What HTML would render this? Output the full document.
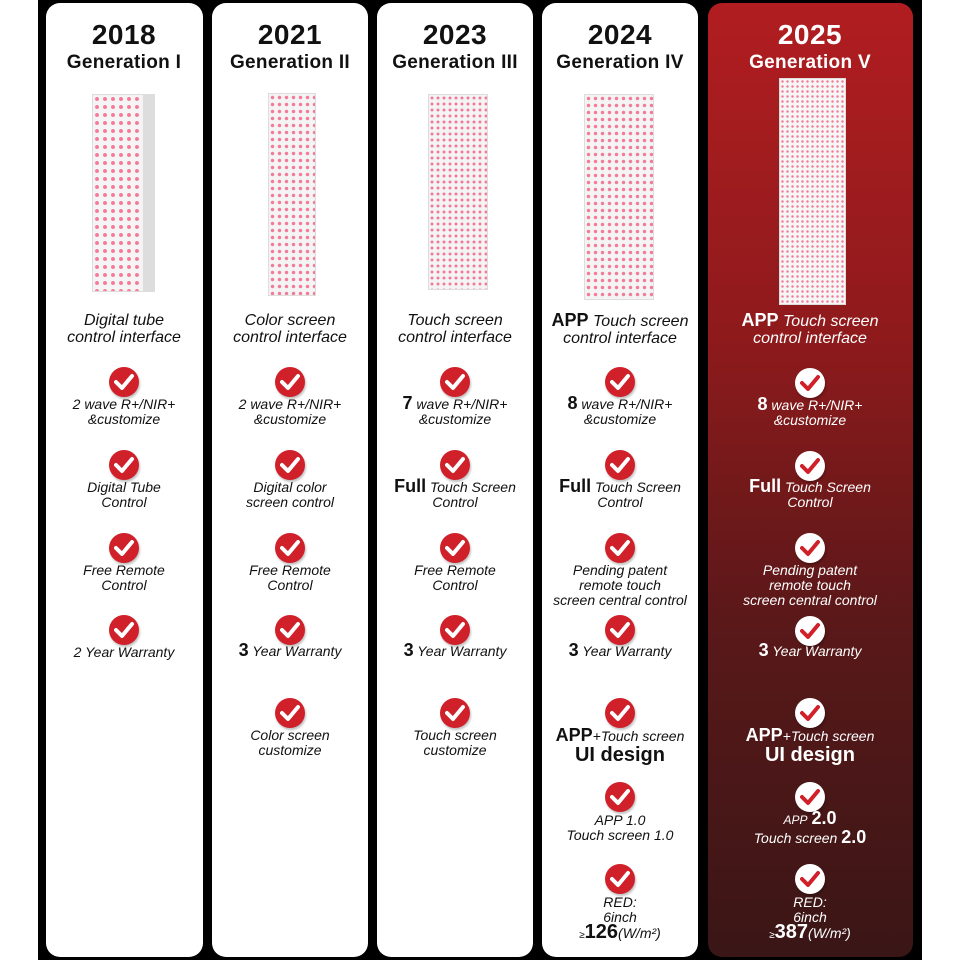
<!DOCTYPE html>
<html><head><meta charset="utf-8"><style>
*{margin:0;padding:0;box-sizing:border-box}
body{width:960px;height:960px;background:#fff;position:relative;overflow:hidden;font-family:"Liberation Sans",sans-serif}
.bk{position:absolute;left:38px;top:0;width:884px;height:960px;background:#000}
.card{position:absolute;top:3px;height:954px;background:#fff;border-radius:14px}
.red{background:linear-gradient(180deg,#b11d20 0%,#8e1a1c 35%,#5a1819 65%,#3a1616 100%)}
.t{position:absolute;width:200px;text-align:center;color:#111;font-style:italic;font-size:14px;line-height:15px}
.w .t,.w .h{color:#fff}
.h{position:absolute;width:200px;text-align:center;font-weight:bold;color:#111;font-style:normal}
.y{font-size:28px;top:19px;letter-spacing:0.5px}
.g{font-size:19px;top:52px;letter-spacing:0.3px}
.ck{position:absolute;width:30px;height:30px;border-radius:50%;background:#d0202a;box-shadow:1px 2px 2px rgba(0,0,0,.25)}
.ck svg{position:absolute;left:5px;top:6px}
.w .ck{background:#fff}
b{font-style:normal;font-size:18px}
.big{font-size:16px;line-height:17px}
.panel{position:absolute;background-color:#f4f4f4;border:1px solid #ddd;background-image:radial-gradient(circle,#f37a98 30%,transparent 40%);background-size:7px 7px}
</style></head><body>
<div class="bk"></div>
<div class="card" style="left:46px;width:157px"></div>
<div class="card" style="left:212px;width:156px"></div>
<div class="card" style="left:377px;width:156px"></div>
<div class="card" style="left:542px;width:156px"></div>
<div class="card red" style="left:708px;width:205px"></div>

<div class="panel" style="left:92px;top:94px;width:52px;height:198px;background-size:8px 8px"></div>
<div class="panel" style="left:143px;top:94px;width:12px;height:198px;background:#ddd"></div>
<div class="panel" style="left:268px;top:93px;width:48px;height:203px;background-size:7px 7px"></div>
<div class="panel" style="left:428px;top:94px;width:60px;height:196px;background-size:6px 6px"></div>
<div class="panel" style="left:584px;top:94px;width:70px;height:206px;background-size:7px 7px"></div>
<div class="panel" style="left:779px;top:78px;width:67px;height:227px;background-size:5px 5px;background-color:#f6f6f6"></div>

<svg width="0" height="0" style="position:absolute"><defs>
<symbol id="cr" viewBox="0 0 20 18"><path d="M2 9 L8 15 L18 3" fill="none" stroke="#fff" stroke-width="4" stroke-linecap="round" stroke-linejoin="round"/></symbol>
<symbol id="cw" viewBox="0 0 20 18"><path d="M2 9 L8 15 L18 3" fill="none" stroke="#d0202a" stroke-width="4" stroke-linecap="round" stroke-linejoin="round"/></symbol>
</defs></svg>

<div style="position:absolute;left:24px;top:0">
<div class="h y">2018</div><div class="h g">Generation I</div>
<div class="t big" style="top:312px">Digital tube<br>control interface</div>
<div class="ck" style="left:85px;top:367px"><svg width="20" height="18"><use href="#cr"/></svg></div>
<div class="t" style="top:397px">2 wave R+/NIR+<br>&amp;customize</div>
<div class="ck" style="left:85px;top:450px"><svg width="20" height="18"><use href="#cr"/></svg></div>
<div class="t" style="top:480px">Digital Tube<br>Control</div>
<div class="ck" style="left:85px;top:533px"><svg width="20" height="18"><use href="#cr"/></svg></div>
<div class="t" style="top:563px">Free Remote<br>Control</div>
<div class="ck" style="left:85px;top:615px"><svg width="20" height="18"><use href="#cr"/></svg></div>
<div class="t" style="top:645px">2 Year Warranty</div>
</div>

<div style="position:absolute;left:190px;top:0">
<div class="h y">2021</div><div class="h g">Generation II</div>
<div class="t big" style="top:312px">Color screen<br>control interface</div>
<div class="ck" style="left:85px;top:367px"><svg width="20" height="18"><use href="#cr"/></svg></div>
<div class="t" style="top:397px">2 wave R+/NIR+<br>&amp;customize</div>
<div class="ck" style="left:85px;top:450px"><svg width="20" height="18"><use href="#cr"/></svg></div>
<div class="t" style="top:480px">Digital color<br>screen control</div>
<div class="ck" style="left:85px;top:533px"><svg width="20" height="18"><use href="#cr"/></svg></div>
<div class="t" style="top:563px">Free Remote<br>Control</div>
<div class="ck" style="left:85px;top:615px"><svg width="20" height="18"><use href="#cr"/></svg></div>
<div class="t" style="top:643px"><b>3</b> Year Warranty</div>
<div class="ck" style="left:85px;top:698px"><svg width="20" height="18"><use href="#cr"/></svg></div>
<div class="t" style="top:728px">Color screen<br>customize</div>
</div>

<div style="position:absolute;left:355px;top:0">
<div class="h y">2023</div><div class="h g">Generation III</div>
<div class="t big" style="top:312px">Touch screen<br>control interface</div>
<div class="ck" style="left:85px;top:367px"><svg width="20" height="18"><use href="#cr"/></svg></div>
<div class="t" style="top:396px"><b>7</b> wave R+/NIR+<br>&amp;customize</div>
<div class="ck" style="left:85px;top:450px"><svg width="20" height="18"><use href="#cr"/></svg></div>
<div class="t" style="top:479px"><b>Full</b> Touch Screen<br>Control</div>
<div class="ck" style="left:85px;top:533px"><svg width="20" height="18"><use href="#cr"/></svg></div>
<div class="t" style="top:563px">Free Remote<br>Control</div>
<div class="ck" style="left:85px;top:615px"><svg width="20" height="18"><use href="#cr"/></svg></div>
<div class="t" style="top:643px"><b>3</b> Year Warranty</div>
<div class="ck" style="left:85px;top:698px"><svg width="20" height="18"><use href="#cr"/></svg></div>
<div class="t" style="top:728px">Touch screen<br>customize</div>
</div>

<div style="position:absolute;left:520px;top:0">
<div class="h y">2024</div><div class="h g">Generation IV</div>
<div class="t big" style="top:312px"><b>APP</b> Touch screen<br>control interface</div>
<div class="ck" style="left:85px;top:367px"><svg width="20" height="18"><use href="#cr"/></svg></div>
<div class="t" style="top:396px"><b>8</b> wave R+/NIR+<br>&amp;customize</div>
<div class="ck" style="left:85px;top:450px"><svg width="20" height="18"><use href="#cr"/></svg></div>
<div class="t" style="top:479px"><b>Full</b> Touch Screen<br>Control</div>
<div class="ck" style="left:85px;top:533px"><svg width="20" height="18"><use href="#cr"/></svg></div>
<div class="t" style="top:563px">Pending patent<br>remote touch<br>screen central control</div>
<div class="ck" style="left:85px;top:615px"><svg width="20" height="18"><use href="#cr"/></svg></div>
<div class="t" style="top:643px"><b>3</b> Year Warranty</div>
<div class="ck" style="left:85px;top:698px"><svg width="20" height="18"><use href="#cr"/></svg></div>
<div class="t" style="top:726px;line-height:19px"><b>APP</b>+Touch screen<br><b style="font-size:20px">UI design</b></div>
<div class="ck" style="left:85px;top:782px"><svg width="20" height="18"><use href="#cr"/></svg></div>
<div class="t" style="top:813px">APP 1.0<br>Touch screen 1.0</div>
<div class="ck" style="left:85px;top:864px"><svg width="20" height="18"><use href="#cr"/></svg></div>
<div class="t" style="top:895px">RED:<br>6inch<br><span style="font-size:10px">≥</span><b style="font-size:20px">126</b>(W/m²)</div>
</div>

<div class="w" style="position:absolute;left:710px;top:0">
<div class="h y">2025</div><div class="h g">Generation V</div>
<div class="t big" style="top:312px"><b>APP</b> Touch screen<br>control interface</div>
<div class="ck" style="left:85px;top:368px"><svg width="20" height="18"><use href="#cw"/></svg></div>
<div class="t" style="top:397px"><b>8</b> wave R+/NIR+<br>&amp;customize</div>
<div class="ck" style="left:85px;top:451px"><svg width="20" height="18"><use href="#cw"/></svg></div>
<div class="t" style="top:479px"><b>Full</b> Touch Screen<br>Control</div>
<div class="ck" style="left:85px;top:533px"><svg width="20" height="18"><use href="#cw"/></svg></div>
<div class="t" style="top:563px">Pending patent<br>remote touch<br>screen central control</div>
<div class="ck" style="left:85px;top:616px"><svg width="20" height="18"><use href="#cw"/></svg></div>
<div class="t" style="top:643px"><b>3</b> Year Warranty</div>
<div class="ck" style="left:85px;top:698px"><svg width="20" height="18"><use href="#cw"/></svg></div>
<div class="t" style="top:726px;line-height:19px"><b>APP</b>+Touch screen<br><b style="font-size:20px">UI design</b></div>
<div class="ck" style="left:85px;top:782px"><svg width="20" height="18"><use href="#cw"/></svg></div>
<div class="t" style="top:810px;line-height:17px"><span style="font-size:12px">APP</span> <b>2.0</b><br>Touch screen <b>2.0</b></div>
<div class="ck" style="left:85px;top:864px"><svg width="20" height="18"><use href="#cw"/></svg></div>
<div class="t" style="top:895px">RED:<br>6inch<br><span style="font-size:10px">≥</span><b style="font-size:20px">387</b>(W/m²)</div>
</div>
</body></html>
